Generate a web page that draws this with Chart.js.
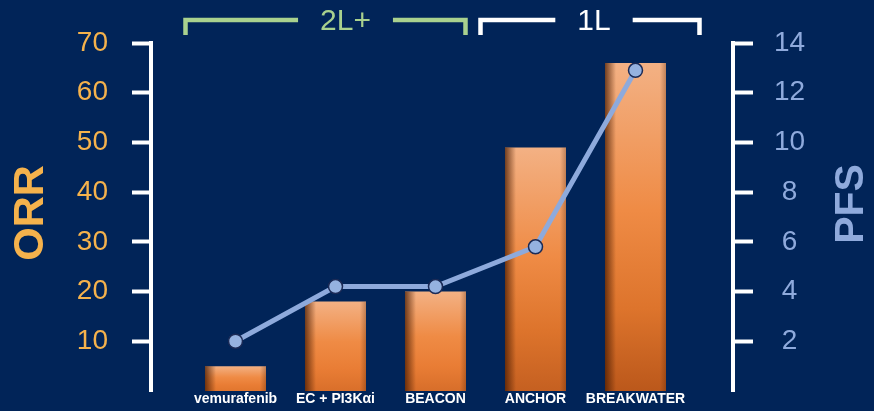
<!DOCTYPE html>
<html>
<head>
<meta charset="utf-8">
<script src="https://cdn.jsdelivr.net/npm/chart.js@4.4.1/dist/chart.umd.min.js"></script>
<style>
  html, body { margin: 0; padding: 0; background: #012458; }
  #wrap { width: 874px; height: 411px; position: relative; }
</style>
</head>
<body>
<div id="wrap"><canvas id="orrChart"></canvas></div>
<script>
// trials on the x axis, ORR (%) as bars on the left axis, PFS (months) as a line on the right axis
const CATEGORIES = ['vemurafenib', 'EC + PI3Kαi', 'BEACON', 'ANCHOR', 'BREAKWATER'];
const ORR = [5, 18, 20, 49, 66];
const PFS = [2.0, 4.2, 4.2, 5.8, 12.9];
const ORR_TICKS = [10, 20, 30, 40, 50, 60, 70];
const PFS_TICKS = [2, 4, 6, 8, 10, 12, 14];

// treatment-line groups shown as brackets above the bars
const GROUP_LABELS = ['2L+', '1L'];
const GROUP_FIRST = [0, 3];
const GROUP_LAST = [2, 4];

const ORANGE_TEXT = '#F5B24C';
const BLUE_TEXT = '#8FAADC';
const LINE_BLUE = '#8EAADC';
const FONT = '"Liberation Sans", Arial, sans-serif';

// vertical gradient for each bar, from its own top down to zero
function barFill(ctx) {
  const chart = ctx.chart;
  const ys = chart.scales.yL;
  if (!chart.chartArea || !ctx.parsed || !ys) return '#ED7D31';
  const top = ys.getPixelForValue(ctx.parsed.y);
  const base = ys.getPixelForValue(0);
  if (!isFinite(top) || !isFinite(base)) return '#ED7D31';
  const k = Math.min(1, ctx.parsed.y / 70);
  const g = chart.ctx.createLinearGradient(0, top, 0, base);
  g.addColorStop(0, '#F3B184');
  g.addColorStop(0.45, '#EF8B45');
  g.addColorStop(0.75, k > 0.5 ? '#DD742C' : '#E97D35');
  g.addColorStop(1, `rgb(${Math.round(228 - 44 * k)}, ${Math.round(120 - 34 * k)}, ${Math.round(48 - 22 * k)})`);
  return g;
}

// darker left rim on each bar for the bevelled look
const barShade = {
  id: 'barShade',
  afterDatasetDraw(chart, args) {
    if (args.meta.type !== 'bar') return;
    const c = chart.ctx;
    c.save();
    args.meta.data.forEach(el => {
      const {x, y, base, width} = el.getProps(['x', 'y', 'base', 'width'], true);
      if (![x, y, base, width].every(isFinite)) return;
      const left = x - width / 2, right = x + width / 2;
      let g = c.createLinearGradient(left, 0, left + 11, 0);
      g.addColorStop(0, 'rgba(70, 25, 0, 0.75)');
      g.addColorStop(1, 'rgba(70, 25, 0, 0)');
      c.fillStyle = g;
      c.fillRect(left, y, 11, base - y);
      g = c.createLinearGradient(right - 6, 0, right, 0);
      g.addColorStop(0, 'rgba(70, 25, 0, 0)');
      g.addColorStop(1, 'rgba(70, 25, 0, 0.3)');
      c.fillStyle = g;
      c.fillRect(right - 6, y, 6, base - y);
    });
    c.restore();
  }
};

// axis titles and the group brackets on top
const decorations = {
  id: 'decorations',
  afterDraw(chart) {
    const c = chart.ctx;
    const xs = chart.scales.x;
    c.save();

    c.textAlign = 'center';
    c.textBaseline = 'middle';
    c.font = `bold 43px ${FONT}`;
    c.fillStyle = ORANGE_TEXT;
    c.translate(chart.scales.yL.left + 31, 213);
    c.rotate(-Math.PI / 2);
    c.fillText('ORR', 0, 0);
    c.setTransform(1, 0, 0, 1, 0, 0);

    c.font = `bold 41px ${FONT}`;
    c.fillStyle = BLUE_TEXT;
    c.translate(chart.scales.yR.right - 22, 204);
    c.rotate(-Math.PI / 2);
    c.fillText('PFS', 0, 0);
    c.setTransform(1, 0, 0, 1, 0, 0);

    const styles = [
      {color: '#A9D18E', padL: -50, padR: 30, shift: 20},
      {color: '#FFFFFF', padL: -55, padR: 64, shift: 4}
    ];
    c.font = `30px ${FONT}`;
    c.textBaseline = 'alphabetic';
    c.lineWidth = 4.5;
    c.lineJoin = 'miter';
    GROUP_LABELS.forEach((label, i) => {
      const s = styles[i];
      const left = xs.getPixelForValue(GROUP_FIRST[i]) + s.padL;
      const right = xs.getPixelForValue(GROUP_LAST[i]) + s.padR;
      const tx = (left + right) / 2 + s.shift;
      const half = c.measureText(label).width / 2 + 22;
      c.strokeStyle = s.color;
      c.fillStyle = s.color;
      c.beginPath();
      c.moveTo(left, 35);
      c.lineTo(left, 20);
      c.lineTo(tx - half, 20);
      c.moveTo(tx + half, 20);
      c.lineTo(right, 20);
      c.lineTo(right, 35);
      c.stroke();
      c.fillText(label, tx, 29.5);
    });
    c.restore();
  }
};

const noPad = s => { s.paddingTop = 0; s.paddingBottom = 0; s.paddingLeft = 0; s.paddingRight = 0; };

new Chart(document.getElementById('orrChart'), {
  type: 'bar',
  data: {
    datasets: [
      {
        type: 'line',
        label: 'PFS',
        yAxisID: 'yR',
        order: 1,
        data: PFS.map((v, i) => ({x: i, y: v})),
        borderColor: LINE_BLUE,
        borderWidth: 5,
        tension: 0,
        pointRadius: 7,
        pointBackgroundColor: '#95B2E0',
        pointBorderColor: '#1B2A55',
        pointBorderWidth: 1.5
      },
      {
        label: 'ORR',
        yAxisID: 'yL',
        order: 2,
        data: ORR.map((v, i) => ({x: i, y: v})),
        backgroundColor: barFill,
        borderWidth: 0,
        barPercentage: 0.61,
        categoryPercentage: 1
      }
    ]
  },
  options: {
    responsive: true,
    maintainAspectRatio: false,
    animation: false,
    layout: { padding: { top: 43, left: 0, right: 0, bottom: 0 } },
    plugins: { legend: { display: false }, tooltip: { enabled: false } },
    scales: {
      x: {
        type: 'linear',
        offset: false,
        min: -0.845,
        max: 4.975,
        grid: { display: false, drawTicks: false },
        border: { display: false },
        afterBuildTicks: s => { s.ticks = CATEGORIES.map((_, i) => ({value: i})); },
        afterFit: s => { s.height = 20; noPad(s); },
        ticks: {
          autoSkip: false,
          maxRotation: 0,
          padding: 0,
          color: '#FFFFFF',
          font: { family: FONT, size: 14, weight: 'bold' },
          callback: v => CATEGORIES[v]
        }
      },
      yL: {
        position: 'left',
        min: 0,
        max: 70,
        afterBuildTicks: s => { s.ticks = ORR_TICKS.map(v => ({value: v})); },
        afterFit: s => { s.width = 151; noPad(s); },
        grid: { drawOnChartArea: false, drawTicks: true, tickLength: 19, tickWidth: 4, tickColor: '#FFFFFF' },
        border: { display: true, color: '#FFFFFF', width: 4 },
        ticks: { color: ORANGE_TEXT, padding: 24, font: { family: FONT, size: 28 } }
      },
      yR: {
        position: 'right',
        min: 0,
        max: 14,
        afterBuildTicks: s => { s.ticks = PFS_TICKS.map(v => ({value: v})); },
        afterFit: s => { s.width = 141; noPad(s); },
        grid: { drawOnChartArea: false, drawTicks: true, tickLength: 20, tickWidth: 4, tickColor: '#FFFFFF' },
        border: { display: true, color: '#FFFFFF', width: 4 },
        ticks: { color: BLUE_TEXT, padding: 21, crossAlign: 'center', font: { family: FONT, size: 28 } }
      }
    }
  },
  plugins: [barShade, decorations]
});
</script>
</body>
</html>
